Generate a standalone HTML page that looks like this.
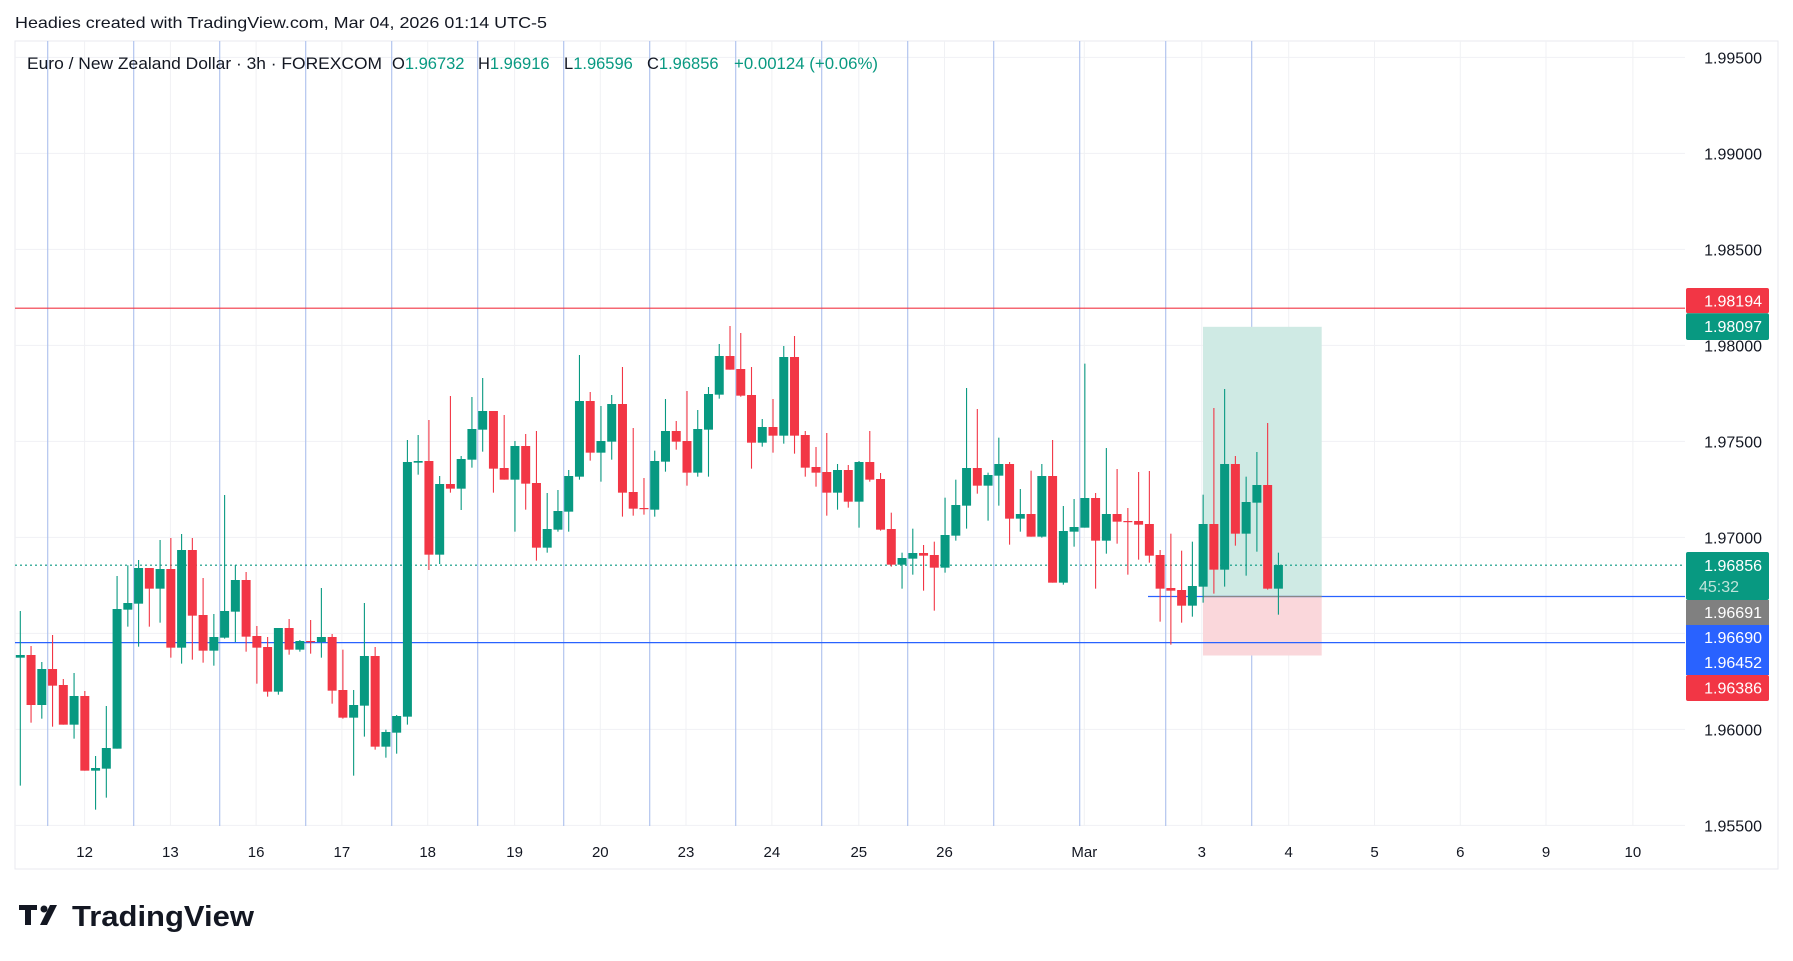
<!DOCTYPE html>
<html><head><meta charset="utf-8">
<style>
html,body{margin:0;padding:0;background:#fff;width:1793px;height:961px;overflow:hidden}
svg{display:block}
text{font-family:"Liberation Sans",sans-serif}
</style></head><body>
<svg id="s" width="1793" height="961" viewBox="0 0 1793 961" xmlns="http://www.w3.org/2000/svg">
<rect width="1793" height="961" fill="#fff"/>
<text x="15" y="28" font-size="16" fill="#131722" textLength="532" lengthAdjust="spacingAndGlyphs">Headies created with TradingView.com, Mar 04, 2026 01:14 UTC-5</text>
<rect x="15" y="41" width="1763" height="828" fill="none" stroke="#e8eaef" stroke-width="1"/>
<g id="grid"></g>
<g id="vlines"></g>
<rect x="1203" y="326.8" width="118.7" height="269.7" fill="#cfeae4"/>
<rect x="1203" y="596.5" width="118.7" height="59" fill="#fad7db"/>
<line x1="15" y1="308.2" x2="1685" y2="308.2" stroke="#f23645" stroke-width="1.2"/>
<line x1="15" y1="642.6" x2="1685" y2="642.6" stroke="#2962ff" stroke-width="1.2"/>
<line x1="1148" y1="596.5" x2="1685" y2="596.5" stroke="#2962ff" stroke-width="1.2"/>
<line x1="1203" y1="596.5" x2="1321.7" y2="596.5" stroke="#888" stroke-width="1.2"/>
<line x1="15" y1="565.2" x2="1685" y2="565.2" stroke="#089981" stroke-width="1.2" stroke-dasharray="2,3"/>
<g id="candles"></g>
<g id="axis"></g>
<g font-size="16.5" fill="#131722">
<text x="27" y="69" textLength="355" lengthAdjust="spacingAndGlyphs">Euro / New Zealand Dollar · 3h · FOREXCOM</text>
<text x="392" y="69">O<tspan fill="#089981">1.96732</tspan></text>
<text x="478" y="69">H<tspan fill="#089981">1.96916</tspan></text>
<text x="564" y="69">L<tspan fill="#089981">1.96596</tspan></text>
<text x="647" y="69">C<tspan fill="#089981">1.96856</tspan></text>
<text x="734" y="69" fill="#089981" textLength="144" lengthAdjust="spacingAndGlyphs">+0.00124 (+0.06%)</text>
</g>
<g font-size="16" fill="#fff">
<rect x="1686" y="288" width="83" height="25.3" rx="2" fill="#f23645"/><text x="1762" y="306.5" text-anchor="end">1.98194</text>
<rect x="1686" y="313.3" width="83" height="26.7" rx="2" fill="#089981"/><text x="1762" y="332" text-anchor="end">1.98097</text>
<rect x="1686" y="552" width="83" height="48" rx="2" fill="#089981"/><text x="1762" y="571" text-anchor="end">1.96856</text><text x="1699" y="592" fill="#bfe3da">45:32</text>
<rect x="1686" y="600" width="83" height="25" fill="#808080"/><text x="1762" y="618" text-anchor="end">1.96691</text>
<rect x="1686" y="625" width="83" height="50" fill="#2962ff"/><text x="1762" y="643" text-anchor="end">1.96690</text><text x="1762" y="668" text-anchor="end">1.96452</text>
<rect x="1686" y="675" width="83" height="26" rx="2" fill="#f23645"/><text x="1762" y="693.5" text-anchor="end">1.96386</text>
</g>
<g>
<rect x="19" y="905" width="18" height="5" fill="#131722"/>
<rect x="25" y="905" width="6" height="20" fill="#131722"/>
<circle cx="44" cy="909" r="3.5" fill="#131722"/>
<polygon points="50,905 57,905 47,925 40,925" fill="#131722"/>
<text x="72" y="926" font-size="29" font-weight="bold" fill="#131722" textLength="182" lengthAdjust="spacingAndGlyphs">TradingView</text>
</g>
</svg>
<script>
var NS="http://www.w3.org/2000/svg";
function el(p,t,a){var e=document.createElementNS(NS,t);for(var k in a)e.setAttribute(k,a[k]);p.appendChild(e);return e;}
var grid=document.getElementById('grid'),vl=document.getElementById('vlines'),ax=document.getElementById('axis'),cg=document.getElementById('candles');
var prices=[1.995,1.990,1.985,1.980,1.975,1.970,1.965,1.960,1.955];
prices.forEach(function(p){var y=537.4-(p-1.97)*19200;
 el(grid,'line',{x1:15,y1:y,x2:1685,y2:y,stroke:'#f0f1f4','stroke-width':1});
 if(Math.abs(p-1.965)>0.001){var t=el(ax,'text',{x:1762,y:y+6,'font-size':16,fill:'#131722','text-anchor':'end'});t.textContent=p.toFixed(5);}
});
var labs=[["12",84.6],["13",170.4],["16",256.1],["17",341.9],["18",427.7],["19",514.6],["20",600.3],["23",686],["24",771.9],["25",858.8],["26",944.5],["Mar",1084.3],["3",1201.8],["4",1288.7],["5",1374.5],["6",1460.3],["9",1546],["10",1632.9]];
labs.forEach(function(l){el(grid,'line',{x1:l[1],y1:41,x2:l[1],y2:826,stroke:'#f0f1f4','stroke-width':1});
 var t=el(ax,'text',{x:l[1],y:857,'font-size':15,fill:'#131722','text-anchor':'middle'});t.textContent=l[0];});
for(var i=0;i<15;i++){var x=47.7+86*i;el(vl,'line',{x1:x,y1:41,x2:x,y2:826,stroke:'#b2c5ee','stroke-width':1.2});}
var D=[
"G 873 1005 1013 1397","R 978 1005 1155 1208","G 1026 1047 1155 1196","R 945 1047 1097 1220","R 1077 1095 1214 1214","G 1059 1128 1214 1256","R 1113 1128 1352 1352","G 1308 1344 1352 1469","G 1158 1284 1346 1433","G 768 867 1286 1286",
"G 736 849 869 920","G 720 744 851 980","R 744 744 806 920","G 660 747 806 908","R 654 747 983 1013","G 642 690 983 1031","R 654 690 887 1019","R 774 885 992 1028","G 882 951 992 1037","G 525 873 953 956",
"G 735 780 875 966","R 756 780 950 995","R 918 948 983 1091","R 951 981 1115 1130","G 924 924 1115 1124","R 897 924 989 1004","G 960 963 989 995","R 900 963 966 1001","G 804 951 966 1013","R 942 951 1112 1151",
"R 989 1110 1193 1196","G 1110 1155 1193 1367","G 849 1008 1157 1250","R 981 1008 1280 1289","G 1229 1236 1280 1313","G 1185 1188 1238 1301","G 360 426 1190 1214","G 345 423 428 464",
"R 300 423 704 750","G 468 492 704 732","R 228 492 506 518","G 408 417 506 570","G 231 327 419 443","G 174 273 329 395","R 273 273 446 518","R 285 444 479 479","G 363 378 479 635","R 342 378 491 569",
"R 333 489 683 722","G 519 627 683 698","G 510 573 629 635","G 450 468 575 635","G 105 243 470 479","R 216 243 398 422","G 258 363 398 485","G 225 252 365 419","R 141 252 518 590","R 324 516 566 587",
"R 474 564 566 584","G 392 423 569 590","G 237 333 425 455","R 303 333 365 389","R 213 363 458 497","G 270 327 458 470","G 201 222 329 470","G 72 108 224 236","R 18 108 149 149","R 39 147 227 230",
"R 141 225 368 446","G 297 321 368 380","R 237 321 347 398","G 78 111 347 371","R 48 111 347 401","R 333 345 443 470","R 381 441 458 500","R 339 456 518 587","G 432 450 518 569","R 435 450 545 563",
"G 423 426 545 623","R 333 426 479 485","R 459 477 629 632","R 578 627 734 740","G 698 714 734 806","G 626 699 716 764","R 675 699 707 812","R 665 705 743 872","G 533 645 743 758","G 479 555 647 662",
"G 204 444 557 626","R 267 444 497 521","G 458 465 497 602","G 353 432 467 557","R 426 432 596 674","G 507 582 596 635","R 452 582 650 650","G 432 468 650 653","R 360 468 788 788","G 558 633 788 794",
"G 537 621 635 680","G 131 534 623 623","R 519 534 662 806","G 384 582 662 701","R 447 582 605 671","R 564 603 605 764","R 456 603 614 719","R 453 612 707 728","R 690 705 806 905","R 641 804 812 974",
"R 692 810 857 908","G 665 798 857 890","G 524 612 800 848","R 264 612 749 821","G 207 432 749 800","R 408 432 641 677","G 470 546 641 767","G 396 495 548 695","R 309 495 806 809","G 698 735 806 884"];
D.forEach(function(s,i){var a=s.split(' ');var c=a[0]=='G'?'#089981':'#f23645';
 var f=function(v){return 320+(+v)/3;};
 var x=20.3+i*10.753;var h=f(a[1]),t=f(a[2]),b=f(a[3]),l=f(a[4]);
 el(cg,'line',{x1:x,y1:h,x2:x,y2:l,stroke:c,'stroke-width':1.1});
 el(cg,'rect',{x:x-4.5,y:t,width:9,height:Math.max(1.2,b-t),fill:c});
});
</script>
</body></html>
